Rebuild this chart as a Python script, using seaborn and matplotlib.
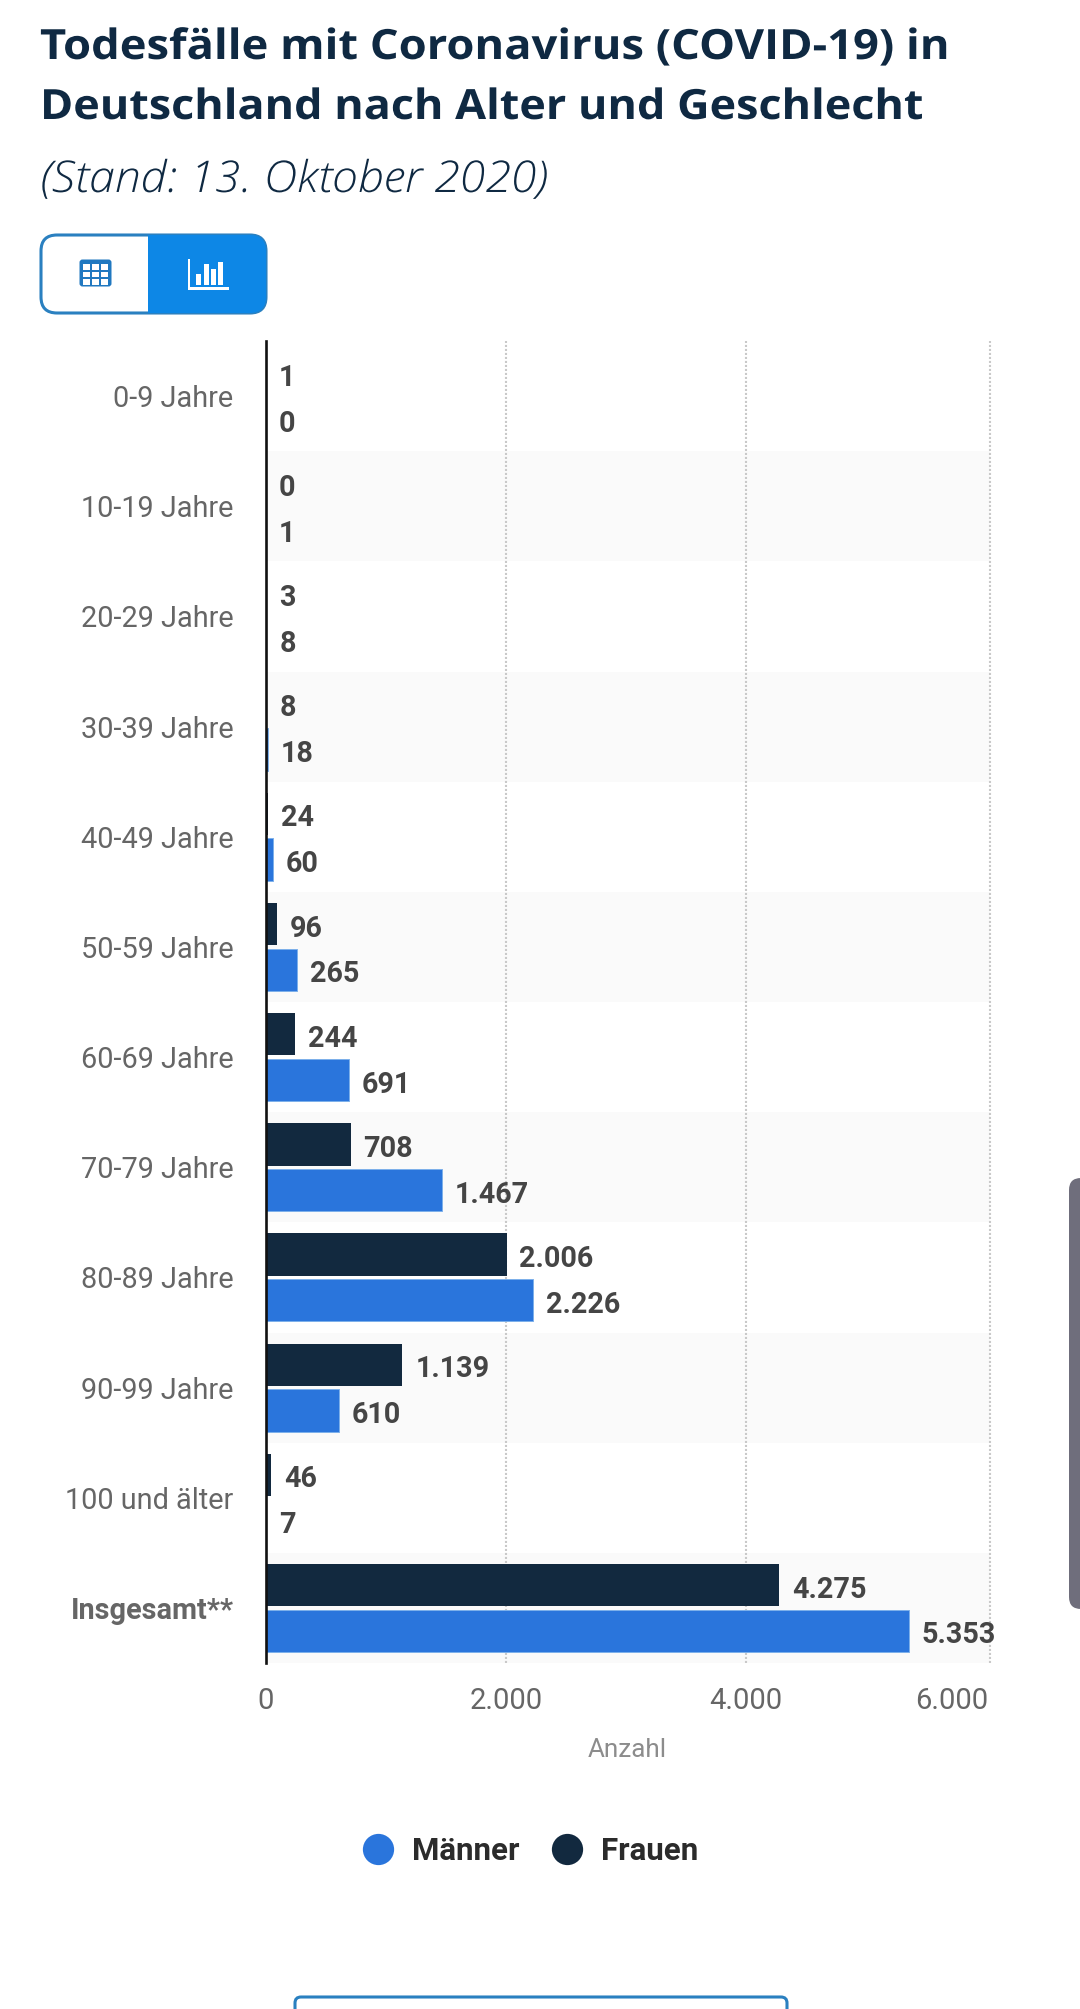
import matplotlib
matplotlib.use("Agg")
import matplotlib.pyplot as plt
from matplotlib.lines import Line2D
from matplotlib.patches import FancyBboxPatch, Rectangle
from matplotlib.patheffects import AbstractPathEffect
from matplotlib.transforms import Affine2D, ScaledTranslation
import pandas as pd
import seaborn as sns

categories = ["0-9 Jahre", "10-19 Jahre", "20-29 Jahre", "30-39 Jahre", "40-49 Jahre",
              "50-59 Jahre", "60-69 Jahre", "70-79 Jahre", "80-89 Jahre", "90-99 Jahre",
              "100 und älter", "Insgesamt**"]
frauen = [1, 0, 3, 8, 24, 96, 244, 708, 2006, 1139, 46, 4275]
maenner = [0, 1, 8, 18, 60, 265, 691, 1467, 2226, 610, 7, 5353]
x_ticks = [0, 2000, 4000, 6000]
x_tick_labels = ["0", "2.000", "4.000", "6.000"]
title_lines = ["Todesfälle mit Coronavirus (COVID-19) in", "Deutschland nach Alter und Geschlecht"]
subtitle = "(Stand: 13. Oktober 2020)"

BLUE = "#2a75dc"
DARK = "#12293f"
GRID = "#c9c9c9"
DOT = (0, (1, 0.92))
W, H = 1080, 2009
X_END = 6030


class Stretch(AbstractPathEffect):
    """Widen a text line about its left edge (the reference has letter spacing)."""

    def __init__(self, x0, factor):
        super().__init__()
        self.x0, self.factor = x0, factor

    def draw_path(self, renderer, gc, tpath, affine, rgbFace=None):
        extra = Affine2D().translate(-self.x0, 0).scale(self.factor, 1).translate(self.x0, 0)
        renderer.draw_path(gc, tpath, affine + extra, rgbFace)


sns.set_theme(style="white")
plt.rcParams["font.family"] = ["Roboto", "DejaVu Sans"]

df = pd.DataFrame({
    "Alter": categories * 2,
    "Anzahl": frauen + maenner,
    "Geschlecht": ["Frauen"] * len(categories) + ["Männer"] * len(categories),
})

fig = plt.figure(figsize=(W / 100, H / 100), dpi=100, facecolor="white")
ax = fig.add_axes([265.5 / W, 1 - 1663 / H, (990 - 265.5) / W, (1663 - 341) / H])
ax.set_facecolor("none")

sns.barplot(data=df, y="Alter", x="Anzahl", hue="Geschlecht", order=categories,
            hue_order=["Frauen", "Männer"], palette={"Frauen": DARK, "Männer": BLUE},
            width=0.83, gap=0.075, errorbar=None, legend=False, saturation=1, ax=ax)

ax.set_xlim(0, X_END)
ax.set_ylim(len(categories) - 0.5, -0.5)

for i in range(1, len(categories), 2):
    ax.axhspan(i - 0.5, i + 0.5, color="#fafafa", lw=0, zorder=0)

# value labels
for container, vals, edge, lw in zip(ax.containers, [frauen, maenner], [DARK, "#7db0ea"], [0, 0.7]):
    for bar in container:
        bar.set_edgecolor(edge)
        bar.set_linewidth(lw)
    texts = ax.bar_label(container, labels=[f"{v:,}".replace(",", ".") for v in vals],
                         padding=9.3, fontsize=20.7, fontweight="bold", color="#454545")
    for t in texts:
        x_off, y_off = t.xyann
        t.xyann = (x_off, y_off - 3.3)

# axes decoration
ax.set_xticks(x_ticks)
ax.set_xticklabels(x_tick_labels)
ax.grid(axis="x", color=GRID, linestyle=DOT, linewidth=1.5)
ax.grid(axis="y", visible=False)
ax.set_axisbelow(True)
ax.get_xgridlines()[0].set_visible(False)
ax.get_xgridlines()[-1].set_visible(False)
ax.axvline(X_END, color=GRID, linestyle=DOT, linewidth=1.5, clip_on=False, zorder=0.5)
for s in ["top", "bottom", "right"]:
    ax.spines[s].set_visible(False)
ax.spines["left"].set_visible(True)
ax.spines["left"].set(color="#111111", linewidth=1.9, zorder=5)
ax.tick_params(axis="x", length=0, pad=17.3, labelsize=21, labelcolor="#666666")
ax.tick_params(axis="y", length=0, pad=23, labelsize=20.8, labelcolor="#666666")
ax.get_xticklabels()[-1].set_transform(
    ax.get_xticklabels()[-1].get_transform() + ScaledTranslation(-35 / 100, 0, fig.dpi_scale_trans))
ax.get_yticklabels()[-1].set_fontweight("bold")
ax.set_ylabel("")
ax.set_xlabel("Anzahl", fontsize=18.8, color="#8c8c8c", labelpad=16.3)

# legend
handles = [Line2D([], [], marker="o", linestyle="none", markersize=22.5, color=c, markeredgewidth=0)
           for c in (BLUE, DARK)]
fig.legend(handles, ["Männer", "Frauen"], ncol=2, frameon=False, loc="center",
           bbox_to_anchor=(530.5 / W, 1 - 1850.5 / H), prop={"size": 22.5, "weight": "bold"},
           labelcolor="#2b2b2b", handletextpad=0.6, columnspacing=1.0, handlelength=1.0)

# page furniture in pixel coordinates
ov = fig.add_axes([0, 0, 1, 1], zorder=-1)
ov.set_xlim(0, W)
ov.set_ylim(H, 0)
ov.axis("off")

ov.text(40, 59, title_lines[0], fontfamily="Open Sans", fontweight="bold", fontsize=30,
        color="#0f2942", va="baseline", path_effects=[Stretch(40, 1.087)])
ov.text(40, 119, title_lines[1], fontfamily="Open Sans", fontweight="bold", fontsize=30,
        color="#0f2942", va="baseline", path_effects=[Stretch(40, 1.078)])
ov.text(40, 192, subtitle, fontfamily="Open Sans", fontstyle="italic", fontweight="light", fontsize=31.5,
        color="#0f2942", va="baseline", path_effects=[Stretch(40, 1.062)])

box = FancyBboxPatch((41, 235), 225, 78, boxstyle="round,pad=0,rounding_size=16",
                     fc="white", ec="#2a80c0", lw=2.2)
ov.add_patch(box)
fill = Rectangle((148, 233), 120, 82, fc="#0d87e6", ec="none")
ov.add_patch(fill)
fill.set_clip_path(box)

ov.add_patch(FancyBboxPatch((79.5, 259.5), 32, 27, boxstyle="round,pad=0,rounding_size=3",
                            fc="#2078c0", ec="none"))
for c in range(3):
    for r in range(3):
        ov.add_patch(Rectangle((82.5 + c * 9, 264 + r * 7.5), 7.5, 5.5, fc="white", ec="none"))

ov.add_patch(Rectangle((187.5, 259), 2.5, 30, fc="white", ec="none"))
ov.add_patch(Rectangle((187.5, 287), 41, 2.5, fc="white", ec="none"))
for x0, top in [(195.5, 274), (203.5, 263.5), (210.5, 269), (217.5, 261.5)]:
    ov.add_patch(Rectangle((x0, top), 5, 284.5 - top, fc="white", ec="none"))

ov.add_patch(FancyBboxPatch((1069, 1178), 40, 431, boxstyle="round,pad=0,rounding_size=12",
                            fc="#6f6e7c", ec="none"))
ov.add_patch(FancyBboxPatch((295, 1997), 492, 40, boxstyle="round,pad=0,rounding_size=6",
                            fc="white", ec="#2a80c0", lw=2.2))

fig.savefig("out.png", dpi=100)
